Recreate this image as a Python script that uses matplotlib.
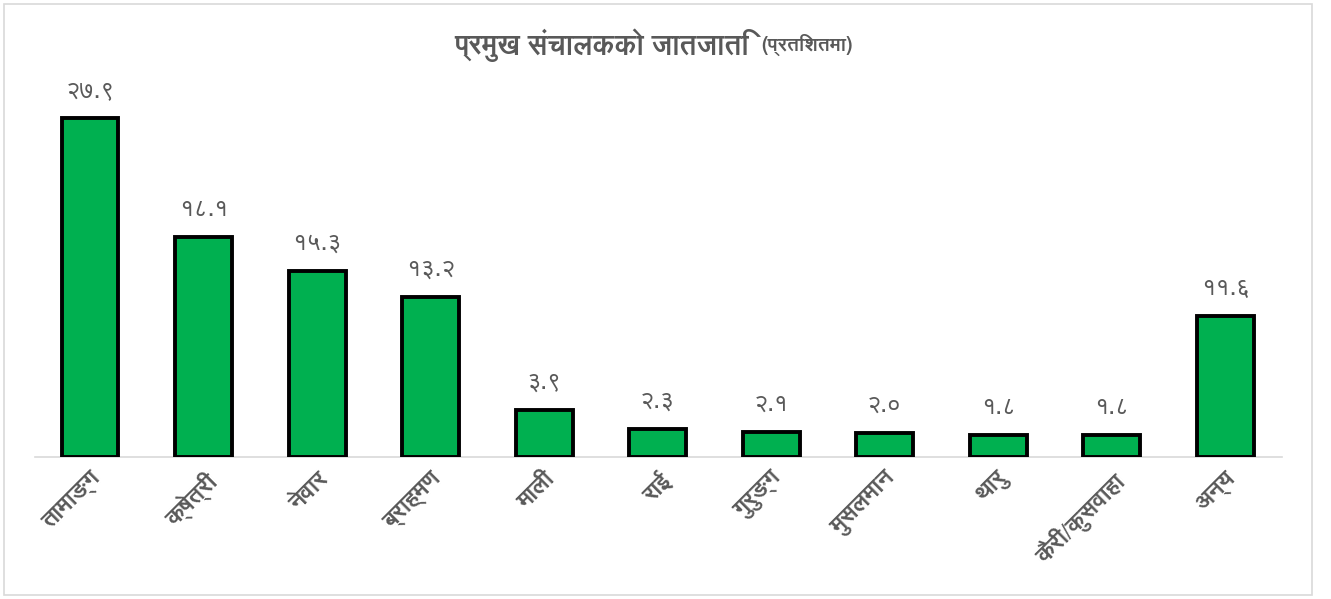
import matplotlib
matplotlib.use("Agg")
import matplotlib.pyplot as plt
from matplotlib import font_manager
from matplotlib.ft2font import FT2Font
from matplotlib.patches import Rectangle

# data
categories = ["तामाङ्ग", "क्षेत्री", "नेवार", "ब्राह्मण", "माली", "राई", "गुरुङ्ग",
              "मुसलमान", "थारु", "कैरी/कुसवाहा", "अन्य"]
values = [27.9, 18.1, 15.3, 13.2, 3.9, 2.3, 2.1, 2.0, 1.8, 1.8, 11.6]
value_labels = ["२७.९", "१८.१", "१५.३", "१३.२", "३.९", "२.३", "२.१", "२.०", "१.८", "१.८", "११.६"]
title_main = "प्रमुख संचालकको जातजाति"
title_unit = "(प्रतिशतमा)"


# find any installed font that has Devanagari glyphs
def find_deva_font():
    found = []
    for f in font_manager.fontManager.ttflist:
        try:
            cmap = FT2Font(f.fname).get_charmap()
        except Exception:
            continue
        if ord("क") in cmap and ord("२") in cmap:
            found.append(f)
    bold = [f for f in found if f.weight in ("bold", 700) or "Bold" in f.fname]
    if bold:
        return bold[0].name
    if found:
        return found[0].name
    return None


deva = find_deva_font()
families = [deva, "DejaVu Sans"] if deva else ["DejaVu Sans"]
plt.rcParams["font.family"] = families

grey = "#595959"

fig = plt.figure(figsize=(13.31, 5.99), dpi=100)
ax = fig.add_axes([0.0263, 0.237, 0.937, 0.629])

x = list(range(len(categories)))
ax.bar(x, values, width=0.5, color="#00B050", edgecolor="black", linewidth=2.8, zorder=3)

# value labels above bars
for xi, v, lab in zip(x, values, value_labels):
    ax.annotate(lab, (xi, v), xytext=(0, 11), textcoords="offset points",
                ha="center", va="bottom", fontsize=18, color=grey)

ax.set_xlim(-0.485, 10.5)
ax.set_ylim(0, 31.0)
ax.set_yticks([])
ax.set_xticks(x)
ax.set_xticklabels(categories, rotation=45, ha="right", rotation_mode="anchor",
                   fontsize=17, fontweight="bold", color=grey)
ax.tick_params(axis="x", length=0, pad=8)
for s in ["top", "right", "left"]:
    ax.spines[s].set_visible(False)
ax.spines["bottom"].set_color("#D9D9D9")
ax.spines["bottom"].set_linewidth(1.2)

# title, with the smaller unit part right after it
t1 = fig.text(0.341, 0.925, title_main, ha="left", va="center", fontsize=20,
              fontweight="bold", color=grey)
ax.annotate(title_unit, xy=(1, 0.5), xycoords=t1, xytext=(9, 0),
            textcoords="offset points", ha="left", va="center", fontsize=14,
            fontweight="bold", color=grey, annotation_clip=False)

# chart border
fig.patches.append(Rectangle((0.003, 0.007), 0.983, 0.986, transform=fig.transFigure,
                             fill=False, edgecolor="#D9D9D9", linewidth=1.2))

fig.savefig("out.png", dpi=100)
